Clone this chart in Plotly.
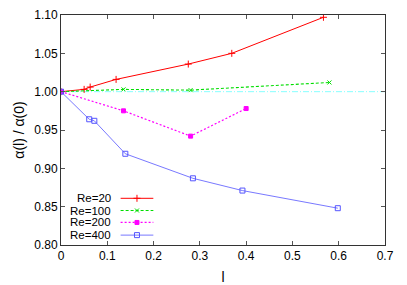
import plotly.graph_objects as go

# Data
l_re20 = [0.0, 0.05, 0.063, 0.119, 0.275, 0.369, 0.567]
a_re20 = [1.000, 1.003, 1.006, 1.016, 1.036, 1.050, 1.097]

l_re100 = [0.0, 0.135, 0.280, 0.580]
a_re100 = [1.000, 1.003, 1.002, 1.012]

l_re200 = [0.0, 0.135, 0.280, 0.400]
a_re200 = [1.000, 0.975, 0.942, 0.978]

l_re400 = [0.0, 0.061, 0.072, 0.139, 0.285, 0.392, 0.598]
a_re400 = [1.000, 0.964, 0.962, 0.919, 0.887, 0.871, 0.848]

ref_l = [0.0, 0.7]
ref_a = [1.0, 1.0]

labels = ["Re=20", "Re=100", "Re=200", "Re=400"]
colors = ["#ff0000", "#00dd00", "#ff00ff", "#5555ff"]
dashes = ["solid", "3px,2px", "2px,2px", "solid"]
symbols = ["cross-thin-open", "x-thin-open", "square", "square-open"]
sizes = [5, 4, 4, 5]
widths = [1.0, 1.1, 1.2, 0.8]

series = [(l_re20, a_re20), (l_re100, a_re100), (l_re200, a_re200), (l_re400, a_re400)]

fig = go.Figure()

fig.add_trace(go.Scatter(x=ref_l, y=ref_a, mode="lines",
                         line=dict(color="#88ffff", width=1, dash="6px,2px,1px,2px"),
                         showlegend=False, hoverinfo="skip"))

for (xs, ys), name, c, d, s, sz, w in zip(series, labels, colors, dashes, symbols, sizes, widths):
    fig.add_trace(go.Scatter(
        x=xs, y=ys, mode="lines+markers", name=name,
        line=dict(color=c, width=w, dash=d),
        marker=dict(symbol=s, size=sz, color=c, line=dict(color=c, width=1)),
        showlegend=False))

# Custom gnuplot-style legend (text right-aligned, sample to the right)
leg_y = [0.203, 0.150, 0.098, 0.043]  # overlay axis [0,1] coordinates
for name, c, d, s, sz, w, yy in zip(labels, colors, dashes, symbols, sizes, widths, leg_y):
    fig.add_trace(go.Scatter(
        x=[0.184, 0.285], y=[yy, yy], mode="lines", xaxis="x2", yaxis="y2",
        line=dict(color=c, width=w, dash=d), showlegend=False, hoverinfo="skip"))
    fig.add_trace(go.Scatter(
        x=[0.2345], y=[yy], mode="markers", xaxis="x2", yaxis="y2",
        marker=dict(symbol=s, size=sz, color=c, line=dict(color=c, width=1)),
        showlegend=False, hoverinfo="skip"))
    fig.add_annotation(x=0.158, y=yy, xref="x2", yref="y2", text=name,
                       showarrow=False, xanchor="right", yanchor="middle",
                       borderpad=0, font=dict(size=11.5, color="black"))

font = dict(family="Liberation Sans, Arial, sans-serif", size=12, color="black")

# page body adds an 8px offset; figure sized so the plot area lands where the reference has it
fig.update_layout(
    width=399, height=277,
    margin=dict(l=53, r=22, t=7, b=40, autoexpand=False),
    paper_bgcolor="white", plot_bgcolor="white",
    font=font,
    xaxis=dict(range=[0, 0.7], tickvals=[0, 0.1, 0.2, 0.3, 0.4, 0.5, 0.6, 0.7],
               ticktext=["0", "0.1", "0.2", "0.3", "0.4", "0.5", "0.6", "0.7"],
               ticks="inside", ticklen=4, tickcolor="#555", mirror="ticks",
               showline=True, linecolor="#333", linewidth=1, showgrid=False,
               zeroline=False, automargin=False,
               title=dict(text="l", standoff=9, font=dict(color="black"))),
    yaxis=dict(range=[0.8, 1.1], tickvals=[0.8, 0.85, 0.9, 0.95, 1.0, 1.05, 1.1],
               ticktext=["0.80", "0.85", "0.90", "0.95", "1.00", "1.05", "1.10"],
               ticks="inside", ticklen=4, tickcolor="#555", mirror="ticks",
               showline=True, linecolor="#333", linewidth=1, showgrid=False,
               zeroline=False, automargin=False,
               title=dict(text="α(l) / α(0)", standoff=6, font=dict(color="black"))),
    xaxis2=dict(range=[0, 1], overlaying="x", visible=False),
    yaxis2=dict(range=[0, 1], overlaying="y", visible=False),
)

fig.write_html("out.html")
